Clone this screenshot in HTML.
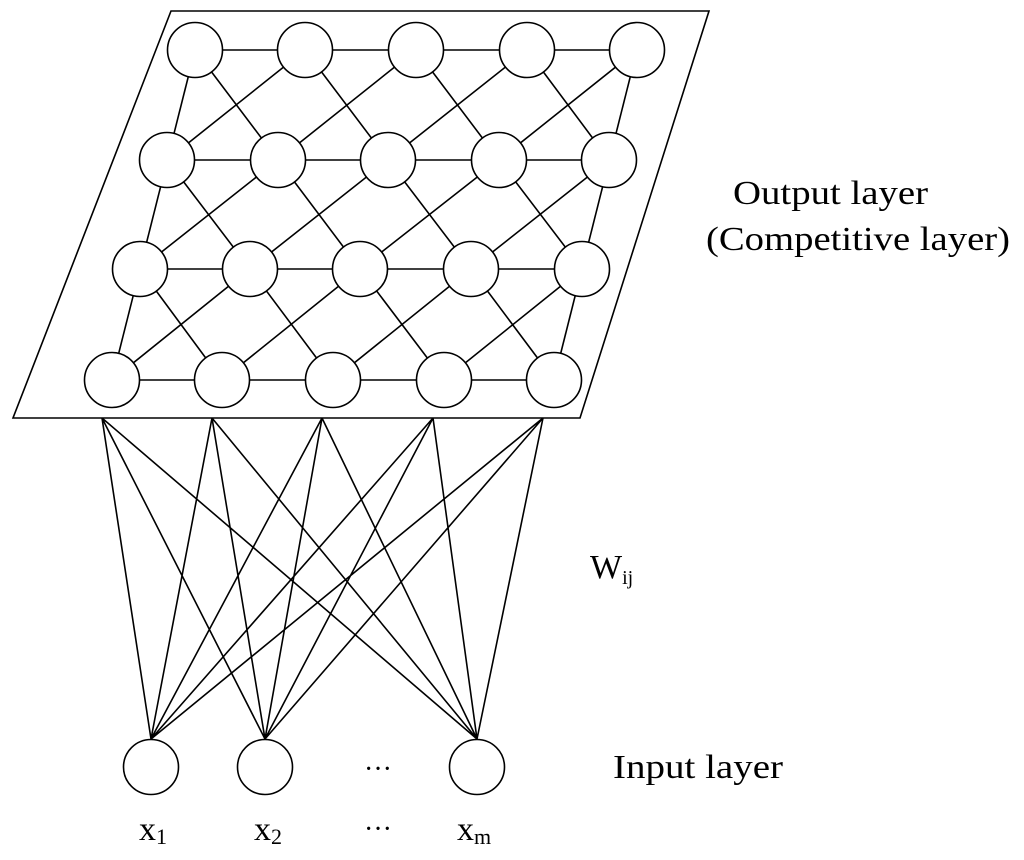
<!DOCTYPE html>
<html><head><meta charset="utf-8"><style>html,body{margin:0;padding:0;background:#fff}</style></head>
<body>
<svg width="1024" height="855" viewBox="0 0 1024 855" xmlns="http://www.w3.org/2000/svg" font-family="Liberation Serif, serif">
<rect width="1024" height="855" fill="#fff"/>
<g stroke="#000" stroke-width="1.6" fill="none">
<polygon points="171,11 709,11 580,418 13,418"/>
<!-- horizontal lines -->
<line x1="195" y1="50" x2="637" y2="50"/>
<line x1="167" y1="160" x2="609" y2="160"/>
<line x1="140" y1="269" x2="582" y2="269"/>
<line x1="112" y1="380" x2="554" y2="380"/>
<!-- edge verticals -->
<line x1="195" y1="50" x2="112" y2="380"/>
<line x1="637" y1="50" x2="554" y2="380"/>
<!-- diagonals -->
<path d="M195,50L278,160M305,50L388,160M416,50L499,160M527,50L609,160
M305,50L167,160M416,50L278,160M527,50L388,160M637,50L499,160
M167,160L250,269M278,160L360,269M388,160L471,269M499,160L582,269
M278,160L140,269M388,160L250,269M499,160L360,269M609,160L471,269
M140,269L222,380M250,269L333,380M360,269L444,380M471,269L554,380
M250,269L112,380M360,269L222,380M471,269L333,380M582,269L444,380"/>
<!-- input connections -->
<path d="M102,418L151,739M102,418L265,739M102,418L477,739
M212,418L151,739M212,418L265,739M212,418L477,739
M322,418L151,739M322,418L265,739M322,418L477,739
M433,418L151,739M433,418L265,739M433,418L477,739
M543,418L151,739M543,418L265,739M543,418L477,739"/>
</g>
<g stroke="#000" stroke-width="1.6" fill="#fff">
<circle cx="195" cy="50" r="27.5"/><circle cx="305" cy="50" r="27.5"/><circle cx="416" cy="50" r="27.5"/><circle cx="527" cy="50" r="27.5"/><circle cx="637" cy="50" r="27.5"/>
<circle cx="167" cy="160" r="27.5"/><circle cx="278" cy="160" r="27.5"/><circle cx="388" cy="160" r="27.5"/><circle cx="499" cy="160" r="27.5"/><circle cx="609" cy="160" r="27.5"/>
<circle cx="140" cy="269" r="27.5"/><circle cx="250" cy="269" r="27.5"/><circle cx="360" cy="269" r="27.5"/><circle cx="471" cy="269" r="27.5"/><circle cx="582" cy="269" r="27.5"/>
<circle cx="112" cy="380" r="27.5"/><circle cx="222" cy="380" r="27.5"/><circle cx="333" cy="380" r="27.5"/><circle cx="444" cy="380" r="27.5"/><circle cx="554" cy="380" r="27.5"/>
<circle cx="151" cy="767" r="27.5"/><circle cx="265" cy="767" r="27.5"/><circle cx="477" cy="767" r="27.5"/>
</g>
<g fill="#000">
<text x="733" y="204" font-size="34" textLength="195" lengthAdjust="spacingAndGlyphs">Output layer</text>
<text x="706" y="250" font-size="34" textLength="304" lengthAdjust="spacingAndGlyphs">(Competitive layer)</text>
<text x="590" y="578" font-size="34">W<tspan font-size="20" dy="6">ij</tspan></text>
<text x="613" y="778" font-size="34" textLength="170" lengthAdjust="spacingAndGlyphs">Input layer</text>
<text x="364" y="778" font-size="28">···</text>
<text x="364" y="838" font-size="28">···</text>
<text x="139" y="840" font-size="34">x<tspan font-size="22" dy="4">1</tspan></text>
<text x="254" y="840" font-size="34">x<tspan font-size="22" dy="4">2</tspan></text>
<text x="457" y="840" font-size="34">x<tspan font-size="22" dy="4">m</tspan></text>
</g>
</svg>
</body></html>
